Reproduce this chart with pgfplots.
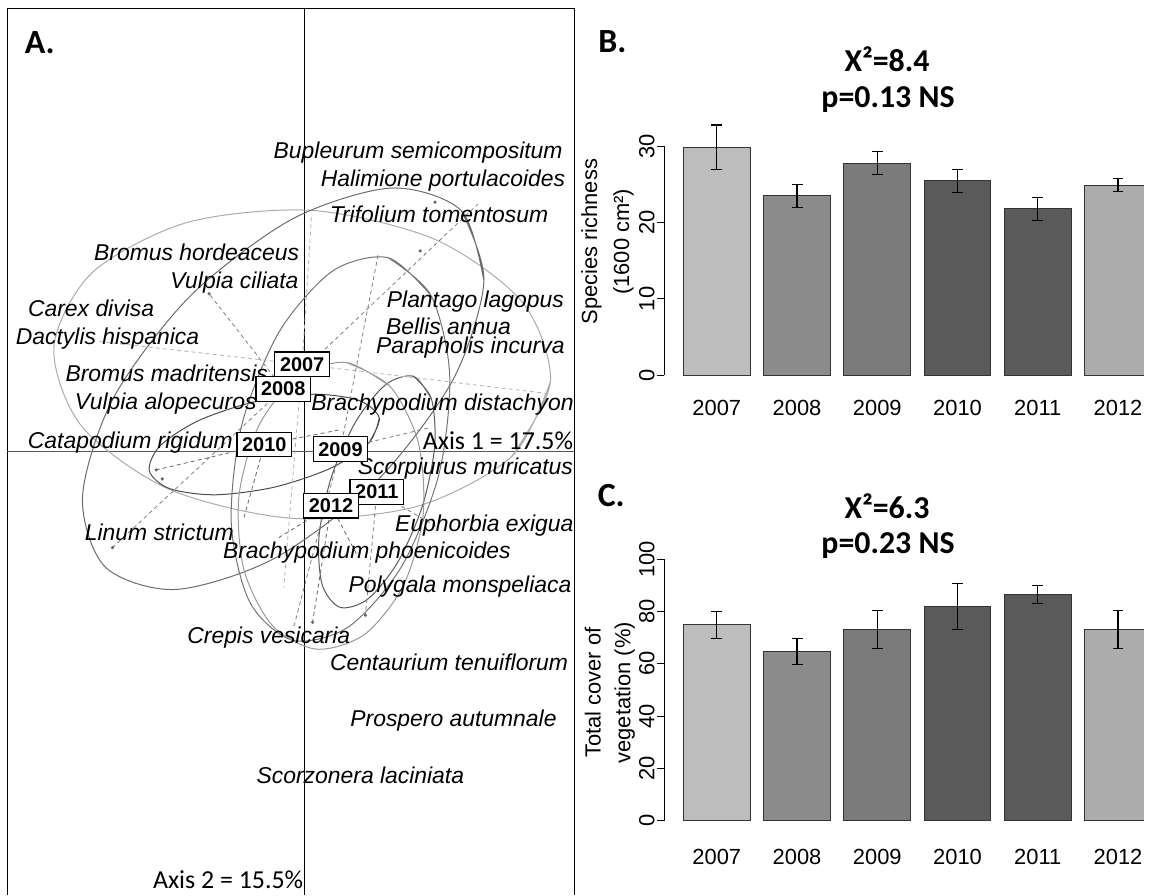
\documentclass[border=0pt]{standalone}
\usepackage{fontspec}
\setmainfont{Liberation Sans}
\newfontfamily\calib{Carlito}
\usepackage{pgfplots}
\pgfplotsset{compat=1.18}

\definecolor{b07}{HTML}{BDBDBD}
\definecolor{b08}{HTML}{8C8C8C}
\definecolor{b09}{HTML}{7B7B7B}
\definecolor{b10}{HTML}{5A5A5A}
\definecolor{b11}{HTML}{5A5A5A}
\definecolor{b12}{HTML}{ACACAC}

\newcommand\spfont{\fontsize{11.5}{13}\selectfont\itshape}
\newcommand\yrfont{\fontsize{10}{12}\selectfont\bfseries}
\newcommand\tkfont{\fontsize{11}{13}\selectfont}

\pgfplotsset{
  eb/.style={error bars/.cd, y dir=both, y explicit,
    error bar style={black, line width=0.6pt},
    error mark options={rotate=90, mark size=2.75pt, black, line width=0.6pt}},
  barpanel/.style={
    scale only axis, width=241pt,
    xmin=0.3424, xmax=6.3225, ymin=0,
    ybar, bar width=0.8333, bar shift=0pt,
    axis lines=left, axis line style={draw=none},
    xtick={1,...,6}, xticklabels={2007,2008,2009,2010,2011,2012},
    xtick style={draw=none},
    tick align=outside, major tick length=3.5pt,
    ytick style={black, line width=0.5pt},
    tick label style={font=\tkfont},
    yticklabel style={rotate=90, anchor=south, inner sep=1pt},
    /pgf/number format/assume math mode=true,
  },
}

\begin{document}
\begin{tikzpicture}

% ---- A: ordination, in pixel units of the figure
\begin{axis}[name=canvas, at={(0pt,0pt)}, anchor=south west,
  x=0.5pt, y=0.5pt, y dir=reverse,
  xmin=0, xmax=1149, ymin=0, ymax=899,
  hide axis, clip=false]

\addplot[draw=none] coordinates {(0,0) (1149,899)};

% frame and axes
\addplot[black, line width=0.6pt] coordinates {(7.4,899) (7.4,8.3) (577,8.3) (577,899)};
\addplot[black, line width=0.5pt] coordinates {(306,8.3) (306,899)};
\addplot[black!65, line width=0.5pt] coordinates {(7.4,453.3) (577,453.3)};

% ellipses (2007 ... 2012)
\addplot[black!33, line width=0.5pt, smooth] coordinates {(552.9,383.4) (514.1,458.4) (418.8,508.6) (292.7,520.6) (169.4,491.2) (82.1,428.2) (54.1,348.6) (92.9,273.6) (188.2,223.4) (314.3,211.4) (437.6,240.8) (524.9,303.8) (552.9,383.4) (514.1,458.4)};
\addplot[black!58, line width=0.5pt, smooth] coordinates {(463.4,211.6) (486.1,282.3) (454.8,381.8) (377.8,483.8) (275.8,560.8) (176.3,592.1) (105.6,569.4) (82.9,498.7) (114.2,399.2) (191.2,297.2) (293.2,220.2) (392.7,188.9) (463.4,211.6) (486.1,282.3)};
\addplot[black!70, line width=0.5pt, smooth] coordinates {(381.0,420.0) (370.4,445.0) (331.8,470.4) (275.3,489.4) (216.2,497.0) (170.4,490.8) (150.0,473.0) (160.6,448.0) (199.2,422.6) (255.7,403.6) (314.8,396.0) (360.6,402.2) (381.0,420.0) (370.4,445.0)};
\addplot[black!55, line width=0.5pt, smooth] coordinates {(389.9,258.9) (433.0,296.9) (451.7,376.3) (441.0,475.7) (403.7,568.5) (350.0,629.7) (294.1,643.1) (251.0,605.1) (232.3,525.7) (243.0,426.3) (280.3,333.5) (334.0,272.3) (389.9,258.9) (433.0,296.9)};
\addplot[black!65, line width=0.5pt, smooth] coordinates {(415.5,378.0) (433.4,400.8) (436.6,448.6) (424.2,508.6) (399.6,564.6) (369.4,601.8) (341.5,610.0) (323.6,587.2) (320.4,539.4) (332.8,479.4) (357.4,423.4) (387.6,386.2) (415.5,378.0) (433.4,400.8)};
\addplot[black!40, line width=0.5pt, smooth] coordinates {(347.5,364.0) (391.8,388.1) (420.1,444.3) (425.0,517.6) (405.1,588.3) (365.8,637.5) (317.5,652.0) (273.2,627.9) (244.9,571.7) (240.0,498.4) (259.9,427.7) (299.2,378.5) (347.5,364.0) (391.8,388.1)};

% spokes from year centroids to sites
\addplot[black!30, line width=0.4pt, dash pattern=on 2pt off 1.6pt, unbounded coords=jump] table {
x y
303.5 366
100 343
nan nan
303.5 366
313 215
nan nan
303.5 366
548 395
nan nan
303.5 366
285 590
};
\addplot[black!50, line width=0.4pt, dash pattern=on 2pt off 1.6pt, unbounded coords=jump] table {
x y
284.5 390.5
210 295
nan nan
284.5 390.5
480 205
nan nan
284.5 390.5
113 550
nan nan
342 451
380 255
nan nan
342 451
295 630
nan nan
342 451
430 430
nan nan
378.5 494
440 530
nan nan
378.5 494
367 618
};
\addplot[black!60, line width=0.4pt, dash pattern=on 2pt off 1.6pt, unbounded coords=jump] table {
x y
265.5 446.5
157 472
nan nan
265.5 446.5
245 520
nan nan
265.5 446.5
340 432
nan nan
332.5 508
314 625
nan nan
332.5 508
360 560
nan nan
332.5 508
280 540
};
\addplot[only marks, mark=*, mark size=0.6pt, black!60] coordinates {
(163,481) (210,295) (437,203) (422,252) (314,625) (367,618) (113,550) (157,472)};

% species
\addplot[only marks, mark=none, nodes near coords, point meta=explicit symbolic,
  every node near coord/.append style={anchor=base, yshift=-4.1pt, inner sep=0pt, font=\spfont}]
  table[x=x, y=y, meta=lab, col sep=comma] {
x,y,lab
420,151,Bupleurum semicompositum
445,179,Halimione portulacoides
441,215,Trifolium tomentosum
197.5,253,Bromus hordeaceus
235.5,282,Vulpia ciliata
477.5,301,Plantago lagopus
91.5,310,Carex divisa
450.5,328,Bellis annua
108,338,Dactylis hispanica
472.5,347,Parapholis incurva
167.5,375,Bromus madritensis
166.5,403,Vulpia alopecuros
444.5,404,Brachypodium distachyon
131,442,Catapodium rigidum
467.5,468,Scorpiurus muricatus
486.5,526,Euphorbia exigua
160,535,Linum strictum
368.5,553,Brachypodium phoenicoides
462,587,Polygala monspeliaca
270,638,Crepis vesicaria
451,665,Centaurium tenuiflorum
455.5,722,Prospero autumnale
362,779,Scorzonera laciniata
};

% year labels
\addplot[only marks, mark=none, nodes near coords, point meta=explicit symbolic,
  every node near coord/.append style={anchor=center, draw=black, fill=white, line width=0.6pt,
    inner xsep=2.6pt, inner ysep=2.6pt, text height=7.2pt, text depth=0pt, font=\yrfont}]
  table[x=x, y=y, meta=lab] {
x y lab
303.5 366 2007
284.5 390.5 2008
342 451 2009
265.5 446.5 2010
378.5 494 2011
332.5 508 2012
};

\node[anchor=east, inner sep=0pt, font=\calib\fontsize{13}{15}\selectfont] at (axis cs:576,443) {Axis 1 = 17.5\%};
\node[anchor=east, inner sep=0pt, font=\calib\fontsize{13}{15}\selectfont] at (axis cs:305,884) {Axis 2 = 15.5\%};

\node[font=\calib\bfseries\fontsize{17}{20}\selectfont] at (axis cs:40,43) {A.};
\node[font=\calib\bfseries\fontsize{17}{20}\selectfont] at (axis cs:615,42) {B.};
\node[font=\calib\bfseries\fontsize{17}{20}\selectfont] at (axis cs:614,498) {C.};

\node[anchor=base, font=\calib\bfseries\fontsize{16}{19}\selectfont] at (axis cs:891,72) {X²=8.4};
\node[anchor=base, font=\calib\bfseries\fontsize{16}{19}\selectfont] at (axis cs:892,108) {p=0.13 NS};
\node[anchor=base, font=\calib\bfseries\fontsize{16}{19}\selectfont] at (axis cs:891,521) {X²=6.3};
\node[anchor=base, font=\calib\bfseries\fontsize{16}{19}\selectfont] at (axis cs:892,556) {p=0.23 NS};
\end{axis}

% ---- B: species richness
\begin{axis}[barpanel, at={(333.5pt,261pt)}, anchor=south west,
  height=134.17pt, ymax=35, ytick={0,10,20,30},
  xticklabel style={yshift=-5.5pt},
  ylabel={Species richness\\(1600 cm²)},
  ylabel style={at={(axis description cs:-0.118,0.5)}, anchor=center, align=center,
    font=\fontsize{11}{16}\selectfont}]
\addplot[sharp plot, black, line width=0.5pt] coordinates {(0.3486,0) (0.3486,30)};
\addplot[fill=b07, draw=black!80, line width=0.5pt, eb] coordinates {(1,29.9) +- (0,2.9)};
\addplot[fill=b08, draw=black!80, line width=0.5pt, eb] coordinates {(2,23.5) +- (0,1.5)};
\addplot[fill=b09, draw=black!80, line width=0.5pt, eb] coordinates {(3,27.8) +- (0,1.5)};
\addplot[fill=b10, draw=black!80, line width=0.5pt, eb] coordinates {(4,25.5) +- (0,1.5)};
\addplot[fill=b11, draw=black!80, line width=0.5pt, eb] coordinates {(5,21.8) +- (0,1.5)};
\addplot[fill=b12, draw=black!80, line width=0.5pt, eb] coordinates {(6,24.9) +- (0,0.85)};
\end{axis}

% ---- C: total cover
\begin{axis}[barpanel, at={(333.5pt,37.35pt)}, anchor=south west,
  height=131.3pt, ymax=100, ytick={0,20,...,100},
  xticklabel style={yshift=-7.5pt},
  ylabel={Total cover of\\vegetation (\%)},
  ylabel style={at={(axis description cs:-0.113,0.489)}, anchor=center, align=center,
    font=\fontsize{11}{15}\selectfont}]
\addplot[sharp plot, black, line width=0.5pt] coordinates {(0.3486,0) (0.3486,100)};
\addplot[fill=b07, draw=black!80, line width=0.5pt, eb] coordinates {(1,74.9) +- (0,5.1)};
\addplot[fill=b08, draw=black!80, line width=0.5pt, eb] coordinates {(2,64.7) +- (0,5.1)};
\addplot[fill=b09, draw=black!80, line width=0.5pt, eb] coordinates {(3,73.1) +- (0,7.3)};
\addplot[fill=b10, draw=black!80, line width=0.5pt, eb] coordinates {(4,81.9) +- (0,8.9)};
\addplot[fill=b11, draw=black!80, line width=0.5pt, eb] coordinates {(5,86.6) +- (0,3.4)};
\addplot[fill=b12, draw=black!80, line width=0.5pt, eb] coordinates {(6,73.1) +- (0,7.3)};
\end{axis}

\end{tikzpicture}
\end{document}
